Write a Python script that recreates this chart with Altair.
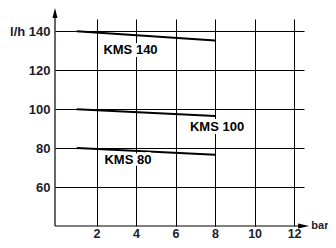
import altair as alt
import pandas as pd

# ---- data ----
pressure = [1, 8]                 # bar
kms140 = [140, 135.3]             # l/h
kms100 = [100, 96.5]
kms80 = [80, 76.6]
series_names = ["KMS 140", "KMS 100", "KMS 80"]
label_x = [3.72, 8.1, 3.59]
label_y = [130.6, 90.9, 74.1]
x_ticks = [2, 4, 6, 8, 10, 12]
y_ticks = [60, 80, 100, 120, 140]

rows = []
for name, vals in zip(series_names, [kms140, kms100, kms80]):
    for p, v in zip(pressure, vals):
        rows.append({"series": name, "bar": p, "flow": v})
lines_df = pd.DataFrame(rows)
labels_df = pd.DataFrame({"series": series_names, "x": label_x, "y": label_y})

FONT = "Liberation Sans, Arial, sans-serif"
TXT = "#1c1c2c"

xs = alt.Scale(domain=[-0.1, 12.5], nice=False, zero=False)
ys = alt.Scale(domain=[40, 146.3], nice=False, zero=False)

x_axis = alt.Axis(
    values=x_ticks, grid=True, gridColor="black", gridOpacity=1, gridWidth=1,
    domain=False, ticks=False, labelFont=FONT, labelFontSize=12.5,
    labelFontWeight="bold", labelColor=TXT, labelPadding=11.5,
    labelBaseline="alphabetic", title=None)
y_axis = alt.Axis(
    values=y_ticks, grid=True, gridColor="black", gridOpacity=1, gridWidth=1,
    domain=False, ticks=False, labelFont=FONT, labelFontSize=13,
    labelFontWeight="bold", labelColor=TXT, labelPadding=5, title=None,
    labelExpr="datum.value == 140 ? 'l/h 140' : datum.label")


def X(field):
    return alt.X(field, type="quantitative", scale=xs, axis=x_axis)


def Y(field):
    return alt.Y(field, type="quantitative", scale=ys, axis=y_axis)


lines = alt.Chart(lines_df).mark_line(color="black", strokeWidth=2).encode(
    x=X("bar"), y=Y("flow"), detail="series:N")

# axis lines with arrows
xaxis_df = pd.DataFrame({"bar": [-0.1], "x2": [12.45], "flow": [40]})
yaxis_df = pd.DataFrame({"bar": [-0.1], "flow": [40], "y2": [149]})
x_axis_line = alt.Chart(xaxis_df).mark_rule(color="black", strokeWidth=1.2, clip=False).encode(
    x=X("bar"), x2="x2:Q", y=Y("flow"))
y_axis_line = alt.Chart(yaxis_df).mark_rule(color="black", strokeWidth=1.2, clip=False).encode(
    x=X("bar"), y=Y("flow"), y2="y2:Q")

xarrow_df = pd.DataFrame({"bar": [12.48], "flow": [40]})
yarrow_df = pd.DataFrame({"bar": [-0.1], "flow": [149.4]})
x_arrow = alt.Chart(xarrow_df).mark_point(
    shape="M1,0L-1,-0.45L-1,0.45Z", size=121, filled=True, color="black", opacity=1, clip=False
).encode(x=X("bar"), y=Y("flow"))
y_arrow = alt.Chart(yarrow_df).mark_point(
    shape="M0,-1L0.5,1L-0.5,1Z", size=100, filled=True, color="black", opacity=1, clip=False
).encode(x=X("bar"), y=Y("flow"))

bar_df = pd.DataFrame({"bar": [12.87], "flow": [40], "t": ["bar"]})
bar_label = alt.Chart(bar_df).mark_text(
    font=FONT, fontSize=11, fontWeight="bold", color=TXT, align="left", baseline="middle", clip=False
).encode(x=X("bar"), y=Y("flow"), text="t:N")

halo = alt.Chart(labels_df).mark_text(
    font=FONT, fontSize=13, fontWeight="bold", color="white", stroke="white", strokeWidth=6,
    align="center", baseline="middle"
).encode(x=alt.X("x:Q", scale=xs, axis=x_axis), y=alt.Y("y:Q", scale=ys, axis=y_axis), text="series:N")
labels = alt.Chart(labels_df).mark_text(
    font=FONT, fontSize=13, fontWeight="bold", color="black",
    align="center", baseline="middle"
).encode(x=alt.X("x:Q", scale=xs, axis=x_axis), y=alt.Y("y:Q", scale=ys, axis=y_axis), text="series:N")

chart = alt.layer(
    lines, halo, labels, x_axis_line, y_axis_line, x_arrow, y_arrow, bar_label
).properties(
    width=249, height=207,
    autosize=alt.AutoSizeParams(type="none"),
    padding={"left": 47, "top": 11, "right": 24, "bottom": 14},
).configure_view(stroke=None)

chart.save("out.html", embed_options={"renderer": "svg", "actions": False})
